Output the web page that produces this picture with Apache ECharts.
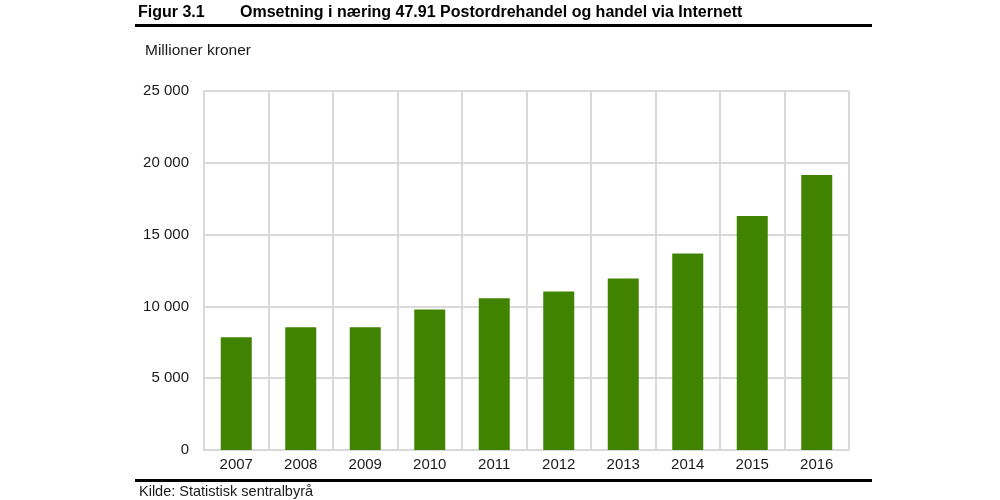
<!DOCTYPE html>
<html><head><meta charset="utf-8">
<script src="https://cdn.jsdelivr.net/npm/echarts@6/dist/echarts.min.js"></script>
<style>html,body{margin:0;padding:0;background:#fff}#c{width:1000px;height:500px}</style>
</head><body><div id="c"></div>
<script>
const categories = ['2007','2008','2009','2010','2011','2012','2013','2014','2015','2016'];
const values = [7850, 8540, 8540, 9790, 10560, 11040, 11940, 13680, 16300, 19150];
const yTicks = [0, 5000, 10000, 15000, 20000, 25000];
const titleNum = 'Figur 3.1';
const titleText = 'Omsetning i næring 47.91 Postordrehandel og handel via Internett';
const unitText = 'Millioner kroner';
const sourceText = 'Kilde: Statistisk sentralbyrå';

const font = '"Liberation Sans", Arial, sans-serif';
const chart = echarts.init(document.getElementById('c'));
chart.setOption({
  animation: false,
  backgroundColor: '#fff',
  grid: {left: 204, right: 151, top: 91, bottom: 50, containLabel: false},
  xAxis: {
    type: 'category', data: categories, boundaryGap: true,
    axisLine: {show: true, lineStyle: {color: '#d9d9d9', width: 2}},
    axisTick: {show: false},
    splitLine: {show: true, lineStyle: {color: '#d9d9d9', width: 2}},
    axisLabel: {color: '#1a1a1a', fontFamily: font, fontSize: 15, margin: 7}
  },
  yAxis: {
    type: 'value', min: yTicks[0], max: yTicks[yTicks.length-1], interval: 5000,
    axisLine: {show: true, lineStyle: {color: '#d9d9d9', width: 2}},
    axisTick: {show: false},
    splitLine: {show: true, lineStyle: {color: '#d9d9d9', width: 2}},
    axisLabel: {color: '#1a1a1a', fontFamily: font, fontSize: 15, margin: 15,
      formatter: v => String(v).replace(/\B(?=(\d{3})+(?!\d))/g, ' ')}
  },
  series: [{
    type: 'bar', data: values, barWidth: 31,
    itemStyle: {color: '#3f8300'}
  }],
  graphic: [
    {type: 'text', left: 138, top: 5, style: {text: titleNum, font: 'bold 16px ' + font, fill: '#000'}},
    {type: 'text', left: 240, top: 5, style: {text: titleText, font: 'bold 16px ' + font, fill: '#000'}},
    {type: 'rect', shape: {x: 135, y: 24, width: 737, height: 3}, style: {fill: '#000'}},
    {type: 'text', left: 145, top: 43, style: {text: unitText, font: '15.5px ' + font, fill: '#1a1a1a'}},
    {type: 'rect', shape: {x: 135, y: 479, width: 737, height: 3}, style: {fill: '#000'}},
    {type: 'text', left: 139, top: 484, style: {text: sourceText, font: '14.5px ' + font, fill: '#1a1a1a'}}
  ]
});
</script></body></html>
